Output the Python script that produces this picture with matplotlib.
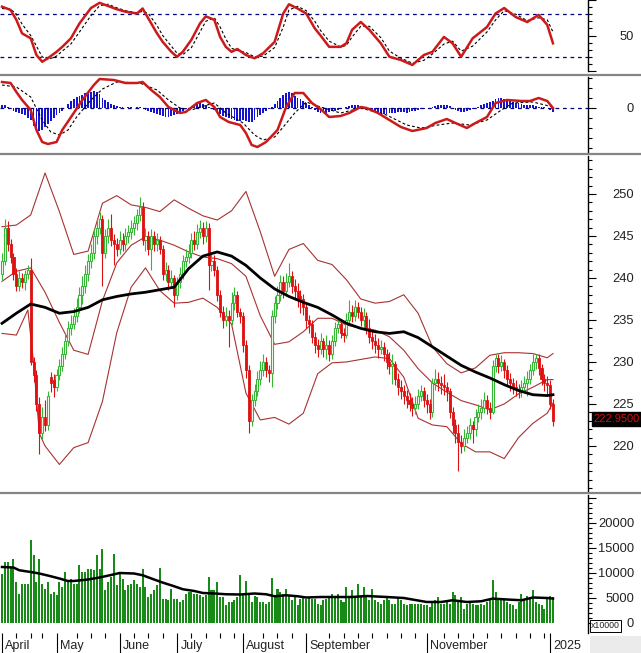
import numpy as np
import pandas as pd
import matplotlib
matplotlib.use("Agg")
import matplotlib.pyplot as plt
from matplotlib.lines import Line2D
from matplotlib.patches import Rectangle

plt.rcParams['font.family'] = ['Liberation Sans', 'DejaVu Sans']

# trading calendar
start_day = '2024-04-01'
end_day = '2025-01-03'
holidays = ['2024-04-18', '2024-04-29', '2024-04-30', '2024-05-01',
            '2024-09-02', '2024-09-03', '2025-01-01']
month_labels = ['April', 'May', 'June', 'July', 'August', 'September', '',
                'November', '', '2025']

opens = [
    240.5, 242.0, 246.0, 244.0, 242.5, 240.5, 239.0, 240.0, 239.5, 240.5,
    241.0, 230.0, 228.5, 225.0, 221.5, 223.5, 222.5, 228.2, 227.8, 227.0,
    228.5, 229.5, 231.0, 232.5, 234.0, 234.5, 235.5, 236.5, 238.0, 239.0,
    240.5, 242.0, 243.0, 245.0, 246.0, 247.0, 243.0, 245.0, 246.0, 244.5,
    244.0, 243.5, 244.5, 244.0, 245.0, 245.5, 246.0, 246.5, 247.5, 248.5,
    244.5, 245.0, 243.5, 245.0, 244.0, 244.5, 243.5, 240.5, 241.0, 239.5,
    240.0, 238.0, 239.5, 240.5, 242.0, 242.5, 243.0, 244.5, 244.0, 245.5,
    246.0, 245.0, 246.0, 241.5, 242.0, 241.0, 238.0, 236.0, 235.0, 235.5,
    235.0, 237.0, 238.0, 236.0, 235.5, 232.0, 229.0, 223.0, 225.5, 226.5,
    228.0, 229.0, 230.0, 229.0, 228.7, 235.5, 237.0, 238.0, 239.5, 238.5,
    239.5, 240.2, 239.0, 238.5, 237.9, 237.5, 236.5, 235.0, 234.5, 233.0,
    232.0, 231.5, 232.5, 231.5, 232.0, 231.0, 232.5, 234.0, 234.5, 233.5,
    233.2, 235.0, 236.0, 235.5, 236.5, 236.0, 235.0, 235.5, 234.0, 233.0,
    232.5, 232.0, 231.5, 231.8, 231.0, 230.0, 229.5, 229.8, 228.0, 227.0,
    226.5, 226.0, 225.5, 225.0, 224.5, 225.0, 226.0, 226.5, 225.5, 225.0,
    224.0, 227.5, 228.0, 227.5, 227.3, 227.0, 226.5, 224.0, 222.5, 221.5,
    220.5, 220.0, 221.0, 221.5, 222.5, 222.0, 223.5, 224.0, 224.5, 225.5,
    224.5, 224.0, 229.5, 230.5, 229.5, 230.0, 229.0, 228.0, 227.5, 227.0,
    226.8, 226.5, 227.0, 227.5, 228.0, 229.0, 230.0, 230.5, 229.3, 228.0,
    227.5, 227.3, 225.0]

closes = [
    242.0, 246.0, 244.0, 242.5, 240.5, 239.0, 240.0, 239.5, 240.5, 241.0,
    230.0, 228.5, 225.0, 221.5, 223.5, 222.5, 226.0, 227.5, 227.0, 228.5,
    229.5, 231.0, 232.5, 234.0, 234.5, 235.5, 236.5, 238.0, 239.0, 240.5,
    242.0, 243.0, 245.0, 246.0, 247.0, 243.0, 245.0, 246.0, 244.5, 244.0,
    243.5, 244.5, 244.0, 245.0, 245.5, 246.0, 246.5, 247.5, 248.5, 244.5,
    245.0, 243.5, 245.0, 244.0, 244.5, 243.5, 240.5, 241.0, 239.5, 240.0,
    238.0, 239.5, 240.5, 242.0, 242.5, 243.0, 244.5, 244.0, 245.5, 246.0,
    245.0, 246.0, 241.5, 242.0, 241.0, 238.0, 236.0, 235.0, 235.5, 235.0,
    237.0, 238.0, 236.0, 235.5, 232.0, 229.0, 223.0, 225.5, 226.5, 228.0,
    229.0, 230.0, 229.0, 228.7, 235.5, 237.0, 238.0, 239.5, 238.5, 239.5,
    240.2, 239.0, 238.5, 237.5, 237.5, 236.5, 235.0, 234.5, 233.0, 232.0,
    231.5, 232.5, 231.5, 232.0, 231.0, 232.5, 234.0, 234.5, 233.5, 233.2,
    235.0, 236.0, 235.5, 236.5, 236.0, 235.0, 235.5, 234.0, 233.0, 232.5,
    232.0, 231.5, 231.8, 231.0, 230.0, 229.5, 229.8, 228.0, 227.0, 226.5,
    226.0, 225.5, 225.0, 224.5, 225.0, 226.0, 226.5, 225.5, 225.0, 224.0,
    227.5, 228.0, 227.5, 227.3, 227.0, 226.5, 224.0, 222.5, 221.5, 220.5,
    220.0, 221.0, 221.5, 222.5, 222.0, 223.5, 224.0, 224.5, 225.5, 224.5,
    224.0, 229.5, 230.5, 229.5, 230.0, 229.0, 228.0, 227.5, 227.0, 226.8,
    226.5, 227.0, 227.5, 228.0, 229.0, 230.0, 230.5, 229.3, 228.0, 227.5,
    227.3, 225.0, 222.95]

highs = [
    243.0, 247.0, 246.8, 244.6, 243.0, 241.2, 240.8, 240.6, 241.0, 241.6,
    242.4, 230.6, 229.0, 225.8, 224.6, 225.5, 226.6, 228.8, 228.6, 229.2,
    230.4, 231.8, 233.4, 234.9, 235.6, 236.4, 237.6, 238.9, 240.2, 241.5,
    242.9, 244.1, 245.8, 247.0, 247.8, 247.5, 245.8, 247.0, 247.6, 245.2,
    244.8, 245.6, 245.4, 245.9, 246.3, 246.9, 247.4, 248.2, 249.6, 249.0,
    245.9, 245.6, 245.8, 245.6, 245.3, 245.0, 243.9, 241.9, 241.5, 240.9,
    240.4, 240.1, 241.3, 242.7, 243.4, 244.0, 245.4, 245.6, 246.4, 246.9,
    246.7, 246.8, 246.5, 242.9, 242.7, 241.4, 238.6, 236.7, 236.6, 236.2,
    238.3, 238.9, 238.5, 236.4, 235.9, 232.6, 229.6, 226.2, 227.4, 228.9,
    230.1, 231.0, 230.6, 229.6, 236.2, 237.9, 239.1, 240.3, 240.2, 240.6,
    241.8, 240.8, 239.9, 239.4, 238.6, 238.1, 237.0, 235.6, 235.0, 233.6,
    232.7, 233.4, 232.9, 233.2, 232.6, 233.2, 234.8, 235.4, 235.1, 234.1,
    235.8, 237.4, 236.8, 237.4, 237.1, 236.6, 236.4, 236.0, 235.1, 233.9,
    233.3, 232.8, 232.6, 232.4, 231.6, 231.2, 230.9, 230.1, 228.7, 227.8,
    227.2, 226.7, 226.3, 225.8, 226.0, 226.8, 227.3, 227.0, 226.2, 225.6,
    228.1, 229.2, 228.8, 228.3, 228.6, 227.6, 226.9, 224.6, 223.2, 222.6,
    221.3, 222.0, 222.4, 223.3, 223.0, 224.4, 225.0, 225.6, 226.4, 226.1,
    225.2, 230.2, 231.0, 231.0, 230.8, 230.4, 229.6, 228.7, 228.1, 227.8,
    227.4, 227.9, 228.3, 228.9, 229.8, 231.0, 231.0, 230.9, 229.8, 228.6,
    228.3, 227.8, 225.6]

lows = [
    239.8, 241.5, 243.2, 241.8, 239.8, 238.4, 238.5, 238.8, 238.6, 239.9,
    229.6, 227.6, 224.2, 219.0, 220.8, 221.8, 221.9, 226.4, 225.8, 226.5,
    227.8, 228.9, 230.3, 231.9, 233.2, 233.9, 234.8, 235.8, 236.9, 238.2,
    239.6, 241.2, 242.3, 244.1, 245.2, 239.0, 242.4, 244.2, 243.8, 241.5,
    242.6, 242.8, 243.2, 243.3, 244.2, 244.6, 245.1, 245.7, 246.8, 243.9,
    243.2, 242.7, 241.0, 243.2, 243.2, 242.8, 239.8, 239.6, 238.6, 238.8,
    236.5, 237.4, 238.8, 239.9, 241.3, 241.8, 242.4, 243.3, 243.4, 244.8,
    244.1, 244.3, 238.6, 240.8, 240.2, 237.2, 235.3, 234.1, 234.3, 231.8,
    234.4, 236.2, 235.4, 234.6, 231.2, 228.1, 221.5, 222.4, 224.8, 225.9,
    227.2, 228.3, 228.2, 227.6, 227.0, 234.6, 236.3, 237.2, 237.6, 237.8,
    238.9, 238.2, 237.4, 236.6, 235.8, 235.6, 234.0, 233.4, 232.2, 231.1,
    230.6, 230.9, 230.6, 230.4, 230.1, 230.4, 231.9, 233.4, 232.9, 232.4,
    232.9, 234.4, 234.8, 234.9, 235.2, 234.3, 234.1, 233.3, 232.2, 231.6,
    231.1, 230.5, 230.9, 230.1, 229.2, 228.6, 227.4, 227.2, 226.1, 225.6,
    225.0, 224.5, 224.2, 223.6, 223.8, 224.4, 225.3, 224.6, 223.9, 223.2,
    223.5, 226.7, 226.6, 226.2, 226.1, 225.3, 223.3, 221.6, 220.4, 217.0,
    219.2, 219.4, 220.3, 220.8, 220.4, 221.2, 222.8, 223.2, 223.9, 223.8,
    223.2, 223.8, 228.8, 228.7, 228.9, 228.1, 227.3, 226.6, 226.2, 225.9,
    225.7, 225.8, 226.4, 226.0, 227.4, 228.4, 229.2, 228.5, 227.2, 226.5,
    226.1, 224.4, 222.4]

# volume, x10000
volume = [
    9800, 12100, 12100, 11100, 12800, 8100, 5800, 7800, 7800, 7800,
    16500, 13500, 8100, 12800, 7800, 6800, 8100, 5800, 6100, 5450,
    8100, 7100, 10100, 8450, 8800, 7800, 7800, 11450, 10100, 10100,
    10800, 10800, 10450, 13500, 10800, 14800, 6450, 8100, 9100, 13800,
    7450, 9800, 8800, 6450, 7450, 7800, 8450, 7800, 7100, 10700,
    7100, 5100, 5800, 6450, 7450, 11000, 4780, 4780, 4450, 6650,
    4780, 4780, 4100, 4450, 5800, 6100, 6100, 5800, 5800, 5450,
    5100, 5450, 9100, 6450, 6450, 8100, 5100, 5100, 3450, 4100,
    4100, 4450, 5100, 9600, 5800, 8300, 5800, 4100, 5250, 5100,
    4100, 4100, 3780, 4100, 8900, 5450, 6800, 6100, 5800, 6800,
    5250, 4450, 5450, 3450, 4780, 5100, 4780, 5100, 4780, 4780,
    3780, 3450, 4450, 4780, 5100, 5800, 5100, 5800, 4450, 4100,
    7100, 5100, 6450, 5100, 7800, 5100, 7100, 5100, 4450, 6650,
    4450, 4100, 3780, 4450, 5100, 4450, 3780, 3780, 5100, 4450,
    3780, 3450, 3780, 3780, 3780, 3780, 3780, 3450, 3450, 3100,
    4100, 4450, 5100, 3780, 3780, 4450, 3780, 6100, 5450, 4450,
    5100, 2800, 3780, 4100, 3780, 3450, 3450, 3780, 3450, 4100,
    4450, 8450, 6100, 4450, 4450, 4450, 4100, 3780, 3450, 2800,
    4100, 5800, 4450, 5250, 5100, 6450, 4100, 3780, 3450, 2800,
    5100, 5250, 5100]

# volume moving average (read at bar positions)
vma_x = [0, 4, 6, 10, 13, 17, 20, 23, 25, 30, 34, 38, 41, 46, 49, 53, 56, 60,
         63, 67, 70, 74, 78, 83, 88, 92, 95, 99, 103, 106, 111, 122, 127, 134,
         140, 143, 148, 153, 157, 162, 167, 171, 176, 181, 185, 190, 192]
vma = [11100, 11000, 10450, 10100, 9800, 9250, 8800, 8300, 8300, 8600, 9000,
       9500, 9900, 9800, 9450, 8600, 7980, 7250, 6650, 6300, 5900, 5800, 5650,
       5600, 5800, 5650, 5250, 5450, 5250, 5000, 5100, 5100, 5300, 5100, 4900,
       4600, 4100, 4100, 4450, 4100, 4250, 4780, 4600, 4450, 5000, 4900, 4780]

# bollinger bands and moving average
bb_x = list(range(0, 191, 5)) + [192]
bb_upper = [246.1, 246.3, 247.5, 252.5, 247.9, 242.8, 243.2, 248.9, 249.8, 248.7,
            248.4, 247.9, 249.3, 248.3, 247.4, 246.9, 248.0, 250.3, 245.5, 240.2,
            243.4, 244.1, 242.1, 241.6, 239.8, 237.5, 237.0, 237.2, 238.0, 235.8,
            231.8, 229.8, 228.7, 229.3, 230.8, 231.1, 231.1, 231.0, 230.5, 231.0]
bb_mid = [239.6, 240.8, 241.2, 238.3, 234.7, 231.4, 230.9, 237.3, 241.8, 243.9,
          244.9, 244.5, 243.9, 243.1, 242.5, 242.3, 241.7, 240.2, 235.5, 232.1,
          232.4, 233.6, 235.2, 235.2, 234.4, 234.0, 233.8, 233.0, 231.4, 229.2,
          227.5, 226.4, 225.4, 224.9, 224.3, 225.0, 226.2, 227.0, 227.9, 227.9]
lo_x = [0, 5, 9, 11, 13, 15, 20, 25, 30, 35, 40, 45, 50, 55, 60, 65, 70, 75, 80,
        85, 90, 95, 100, 105, 110, 115, 120, 125, 130, 135, 140, 145, 150, 155,
        160, 165, 170, 175, 180, 185, 190, 192]
bb_lower = [233.4, 233.2, 236.2, 229.9, 221.5, 220.0, 217.8, 219.8, 220.4, 225.3,
            233.5, 238.9, 241.2, 238.5, 237.0, 237.1, 237.6, 236.5, 234.5, 226.3,
            223.1, 223.4, 222.6, 223.9, 228.6, 229.9, 230.0, 230.3, 230.6, 230.4,
            228.2, 223.3, 222.5, 222.3, 220.3, 219.3, 219.3, 218.5, 221.0, 222.7,
            223.9, 225.1]
ma_long = [234.6, 235.8, 236.9, 236.5, 235.8, 236.0, 236.5, 237.4, 237.8, 238.1,
           238.3, 238.6, 238.9, 241.1, 242.6, 243.1, 242.6, 241.5, 240.0, 238.7,
           237.8, 237.1, 236.5, 235.6, 234.6, 234.0, 233.6, 233.4, 233.6, 232.9,
           231.8, 230.7, 229.6, 228.8, 228.1, 227.3, 226.6, 226.1, 226.0, 226.1]

# stochastic
st_x = [0, 3, 5, 7, 10, 12, 14, 16, 19, 21, 24, 27, 31, 34, 37, 40, 43, 47, 49,
        51, 54, 56, 59, 61, 63, 66, 69, 71, 74, 76, 78, 80, 82, 85, 88, 91, 95,
        98, 100, 103, 106, 109, 111, 114, 118, 120, 122, 125, 128, 132, 135,
        139, 143, 147, 150, 154, 157, 160, 164, 169, 172, 175, 179, 183, 187,
        190, 192]
st_k = [90.6, 86, 72, 53, 46, 22.5, 13, 18, 27, 34, 46, 67, 88.7, 96, 91.5, 87,
        83.5, 81, 88, 74, 53, 41, 27, 20, 27, 44, 67, 77, 72, 48, 34, 27, 31,
        22.5, 18, 25, 41, 81, 94, 88, 81, 60, 50, 34, 34, 39, 58, 69, 58, 39,
        20, 15.5, 8.5, 22.5, 27, 48, 39, 20, 46, 62, 81, 88.7, 76, 69, 79, 65, 39]
st_d = [88, 87, 80, 66, 50, 35, 20, 16, 21, 28, 38, 55, 78, 92, 94, 89, 85, 82,
        84, 81, 64, 50, 35, 25, 23, 33, 55, 70, 75, 62, 45, 32, 29, 26, 20, 21,
        33, 62, 86, 91, 85, 70, 57, 42, 34, 36, 48, 63, 63, 47, 28, 18, 11, 15,
        24, 38, 42, 28, 35, 55, 72, 85, 80, 71, 75, 72, 55]

# macd
md_x = [0, 3, 5, 7, 10, 12, 14, 16, 19, 21, 25, 28, 32, 34, 39, 43, 47, 49, 52,
        55, 58, 62, 64, 68, 71, 74, 76, 79, 83, 85, 87, 89, 92, 96, 99, 102,
        105, 108, 111, 114, 118, 121, 125, 127, 131, 135, 139, 143, 148, 151,
        155, 158, 162, 165, 169, 172, 176, 181, 184, 187, 190, 192]
macd = [2.6, 2.5, 1.6, 0.8, -0.2, -2.2, -3.4, -3.6, -3.4, -2.2, -0.5, 0.8, 2.3,
        2.9, 2.8, 2.5, 2.5, 2.6, 1.8, 1.1, 0.1, -0.5, -0.4, 0.5, 0.8, 0.1, -0.9,
        -1.4, -1.7, -2.5, -3.7, -3.9, -3.4, -2.2, 0.1, 1.5, 1.5, 0.5, -0.1, -0.9,
        -0.8, -0.5, 0.1, 0.0, -0.5, -1.2, -1.9, -2.3, -2.0, -1.5, -1.1, -1.5,
        -2.0, -1.5, -0.9, 0.5, 0.8, 0.7, 0.7, 1.0, 0.7, 0.0]
sig_x = [0, 5, 10, 14, 17, 20, 23, 26, 31, 35, 40, 48, 54, 58, 62, 66, 69, 74,
         78, 84, 88, 91, 95, 98, 102, 106, 111, 118, 125, 134, 141, 146, 152,
         157, 163, 169, 174, 178, 185, 192]
signal = [2.3, 2.1, 1.1, -1.2, -2.4, -2.7, -2.2, -0.9, 0.8, 1.9, 2.6, 2.5, 1.8,
          0.8, 0.0, -0.2, 0.1, 0.5, -0.5, -1.5, -2.7, -3.2, -2.9, -1.9, -0.5,
          0.6, 0.1, -0.5, 0.0, -0.7, -1.7, -2.0, -1.7, -1.5, -1.7, -1.2, -0.2,
          0.5, 0.6, 0.1]
hist = [
    0.33, 0.3, 0.1, 0.0, -0.3, -0.4, -0.5, -0.6, -0.7, -1.0,
    -1.2, -1.8, -2.1, -2.3, -2.2, -1.9, -1.6, -1.3, -1.0, -0.7,
    -0.5, -0.3, 0.0, 0.4, 0.7, 0.9, 1.1, 1.2, 1.3, 1.5,
    1.5, 1.6, 1.7, 1.6, 1.4, 1.0, 0.8, 0.6, 0.4, 0.3,
    0.2, 0.1, 0.1, 0.05, 0.1, 0.1, 0.05, 0.1, 0.1, 0.0,
    -0.2, -0.3, -0.4, -0.5, -0.6, -0.7, -0.8, -0.9, -0.9, -0.8,
    -0.7, -0.6, -0.5, -0.3, -0.1, 0.0, 0.1, 0.2, 0.4, 0.5,
    0.4, 0.3, 0.1, 0.0, -0.2, -0.4, -0.6, -0.8, -0.9, -1.0,
    -1.1, -1.2, -1.3, -1.3, -1.2, -1.3, -1.4, -1.4, -1.2, -0.9,
    -0.7, -0.5, -0.3, -0.1, 0.1, 0.4, 0.7, 1.0, 1.3, 1.5,
    1.6, 1.5, 1.2, 1.0, 0.9, 0.7, 0.5, 0.3, 0.1, -0.2,
    -0.4, -0.5, -0.5, -0.5, -0.4, -0.3, -0.3, -0.2, -0.1, 0.0,
    0.1, 0.2, 0.3, 0.3, 0.3, 0.2, 0.1, -0.1, -0.2, -0.3,
    -0.4, -0.5, -0.5, -0.6, -0.6, -0.5, -0.5, -0.5, -0.4, -0.4,
    -0.4, -0.5, -0.4, -0.3, -0.3, -0.2, -0.1, -0.1, 0.0, 0.0,
    0.1, 0.2, 0.3, 0.3, 0.3, 0.3, 0.2, 0.0, -0.2, -0.3,
    -0.4, -0.4, -0.3, -0.2, -0.1, 0.0, 0.1, 0.3, 0.4, 0.5,
    0.6, 0.7, 0.9, 1.0, 1.0, 0.9, 0.8, 0.7, 0.6, 0.5,
    0.5, 0.4, 0.3, 0.3, 0.3, 0.3, 0.2, 0.1, 0.1, 0.1,
    0.0, -0.2, -0.4]

last_price = '222.9500'

# ---------------------------------------------------------------
dates = pd.bdate_range(start_day, end_day)
dates = dates[~dates.isin(pd.to_datetime(holidays))]
x = np.arange(len(dates))
o = np.array(opens); c = np.array(closes)
h = np.array(highs); l = np.array(lows)

W, H = 641, 653
def box(top, bottom):
    return [0, 1 - bottom / H, 588 / W, (bottom - top) / H]

fig = plt.figure(figsize=(W / 100, H / 100), dpi=100)
ax_st = fig.add_axes(box(0, 71))
ax_md = fig.add_axes(box(77, 152))
ax_pr = fig.add_axes(box(156, 491))
ax_vo = fig.add_axes(box(495, 633))

def style(ax, ylim, major, labels, minor):
    ax.set_xlim(-0.7, 204.2)
    ax.set_ylim(*ylim)
    for s in ['top', 'left', 'bottom']:
        ax.spines[s].set_visible(False)
    ax.spines['right'].set_linewidth(1.0)
    ax.yaxis.tick_right()
    ax.set_yticks(major)
    ax.set_yticklabels(labels)
    ax.set_yticks(minor, minor=True)
    ax.tick_params(axis='y', which='major', length=5.8, width=0.8, pad=27.4,
                   labelsize=9.3, labelcolor='#222222')
    ax.tick_params(axis='y', which='minor', length=2.9, width=0.8)
    ax.tick_params(axis='x', which='both', bottom=False, labelbottom=False)
    for t in ax.get_yticklabels():
        t.set_horizontalalignment('right')

# stochastic
style(ax_st, (0, 100), [0, 50, 100], ['', '50', ''], range(0, 101, 10))
ax_st.axhline(80, color='#000080', lw=0.9, ls=(0, (3, 3)))
ax_st.axhline(20, color='#000080', lw=0.9, ls=(0, (3, 3)))
ax_st.plot(st_x, st_d, color='black', lw=0.8, ls=(0, (2.5, 2)))
ax_st.plot(st_x, st_k, color='#cc1a1a', lw=1.8)

# macd
style(ax_md, (-4.4, 3.1), [0], ['0'], range(-4, 4))
ax_md.bar(x, hist, width=0.62, color='#1414d2')
ax_md.axhline(0, color='#000080', lw=0.9, ls=(0, (3, 3)))
ax_md.plot(sig_x, signal, color='black', lw=0.8, ls=(0, (2.5, 2)))
ax_md.plot(md_x, macd, color='#cc1a1a', lw=1.8)

# price
style(ax_pr, (214.64, 254.52), range(220, 251, 5),
      [str(v) for v in range(220, 251, 5)], range(215, 255))
band = '#a83232'
ax_pr.plot(bb_x, bb_upper, color=band, lw=0.8)
ax_pr.plot(bb_x, bb_mid, color=band, lw=0.8)
ax_pr.plot(lo_x, bb_lower, color=band, lw=0.8)
up = c >= o
green, red = '#36b836', '#dd1111'
ax_pr.vlines(x[up], l[up], h[up], color=green, lw=0.8, zorder=3)
ax_pr.vlines(x[~up], l[~up], h[~up], color=red, lw=0.8, zorder=3)
ax_pr.bar(x[up], (c - o)[up], bottom=o[up], width=0.72, facecolor='white',
          edgecolor=green, lw=0.8, zorder=4)
ax_pr.bar(x[~up], (o - c)[~up], bottom=c[~up], width=0.72, facecolor=red,
          edgecolor=red, lw=0.6, zorder=4)
ax_pr.plot(bb_x, ma_long, color='black', lw=2.0, zorder=5)

# volume
style(ax_vo, (-2100, 25500), range(0, 25001, 5000),
      ['0', '5000', '10000', '15000', '20000', ''], range(0, 25001, 1000))
ax_vo.bar(x, volume, width=0.7, color='#178a17')
ax_vo.plot(vma_x, vma, color='black', lw=1.8)

# date axis
months = dates.to_period('M')
m_start = np.flatnonzero(np.r_[True, months[1:] != months[:-1]])
weeks = dates.to_period('W')
w_start = np.flatnonzero(np.r_[True, weeks[1:] != weeks[:-1]])
major_pos = [m for m, lab in zip(m_start, month_labels) if lab]
minor_pos = [w for w in w_start
             if not any(0 <= w - m <= 3 for m in major_pos)]
ax_vo.set_xticks(major_pos)
ax_vo.set_xticks(minor_pos, minor=True)
ax_vo.tick_params(axis='x', which='major', bottom=True, length=14.4, width=0.8,
                  labelbottom=False)
ax_vo.tick_params(axis='x', which='minor', bottom=True, length=3.6, width=0.8)
for m, lab in zip(m_start, month_labels):
    if lab:
        ax_vo.annotate(lab, xy=(m, 0), xycoords=('data', 'axes fraction'),
                       xytext=(2.4, -9.6), textcoords='offset points',
                       ha='left', va='center', fontsize=9, color='#222222',
                       annotation_clip=False)

# panel separators and extras
for yy in [75, 153.5, 493]:
    fig.add_artist(Line2D([0, 1], [1 - yy / H, 1 - yy / H],
                          transform=fig.transFigure, color='#858585', lw=1.6))
fig.add_artist(Rectangle((590 / W, 0), 51 / W, 17 / H, transform=fig.transFigure,
                         facecolor='#ebebeb', edgecolor='none'))
fig.text(591 / W, 1 - 626 / H, 'x10000', fontsize=6.3, ha='left', va='center',
         color='#222222',
         bbox=dict(facecolor='white', edgecolor='black', lw=0.7, pad=1.0))
fig.text(0.9985, 1 - 419 / H, last_price, fontsize=8, color='#d01010',
         ha='right', va='center',
         bbox=dict(facecolor='black', edgecolor='black', pad=1.2))

fig.savefig('out.png', dpi=100)
